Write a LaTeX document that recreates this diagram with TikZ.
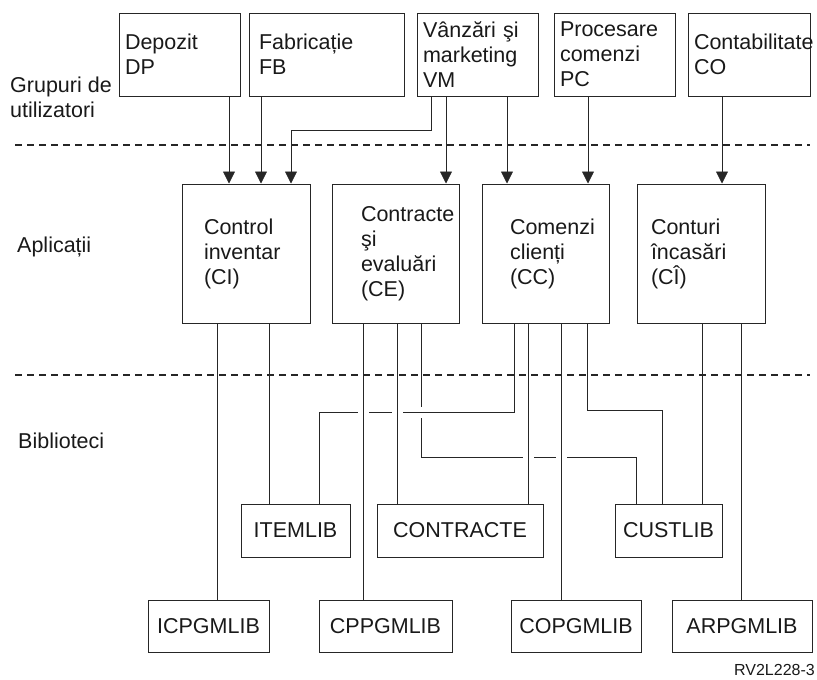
\documentclass[tikz,border=0pt]{standalone}
\usepackage{fontspec}
\setmainfont{Liberation Sans}
\usetikzlibrary{arrows.meta,backgrounds}

\begin{document}
\begin{tikzpicture}[x=1pt, y=-1pt,
      every node/.style={font=\fontsize{21.5}{25}\selectfont, text=black!90},
      box/.style={draw=black!85, line width=1pt},
      grpbox/.style={box, minimum height=83pt, align=left, inner xsep=6pt},
      appbox/.style={box, minimum height=139pt, align=left},
      libbox/.style={box, minimum height=53pt},
      pgmbox/.style={box, minimum height=52pt},
      lbl/.style={inner sep=0pt, align=left},
      conn/.style={draw=black!85, line width=0.8pt},
      arr/.style={conn, -{Triangle[width=12pt,length=12pt]}},
      bridge/.style={conn, preaction={draw, white, line width=11pt}},
      sepline/.style={draw=black!85, line width=1.2pt, dash pattern=on 7pt off 5pt}
    ]
    \useasboundingbox (0,0) rectangle (817,680);

    % grupuri de utilizatori
    \node[grpbox, text width=109pt] (DP) at (179.5,54.5) {Depozit\\DP};
    \node[grpbox, text width=135pt, inner xsep=10pt] (FB) at (326.5,54.5) {Fabricație\\FB};
    \node[grpbox, text width=109pt] (VM) at (477.5,54.5) {Vânzări şi\\marketing\\VM};
    \node[grpbox, text width=109pt] (PC) at (614.5,54.5) {Procesare\\comenzi\\PC};
    \node[grpbox, text width=110pt] (CO) at (749,54.5) {Contabilitate\\CO};

    % aplicatii
    \node[appbox, text width=84pt, inner xsep=22pt] (CI) at (246,253.5) {Control\\inventar\\(CI)};
    \node[appbox, text width=69pt, inner xsep=29pt] (CE) at (395.5,253.5) {Contracte\\şi\\evaluări\\(CE)};
    \node[appbox, text width=71pt, inner xsep=28pt] (CC) at (545.5,253.5) {Comenzi\\clienți\\(CC)};
    \node[appbox, text width=100pt, inner xsep=14pt] (CIN) at (701,253.5) {Conturi\\încasări\\(CÎ)};

    % biblioteci
    \node[libbox, minimum width=109pt] (ITEM) at (295.5,530.5) {ITEMLIB};
    \node[libbox, minimum width=166pt] (CONTR) at (460,530.5) {CONTRACTE};
    \node[libbox, minimum width=107pt] (CUST) at (668.5,530.5) {CUSTLIB};
    \node[pgmbox, minimum width=121pt] (ICP) at (208.5,626) {ICPGMLIB};
    \node[pgmbox, minimum width=133pt] (CPP) at (385.5,626) {CPPGMLIB};
    \node[pgmbox, minimum width=130pt] (COP) at (576,626) {COPGMLIB};
    \node[pgmbox, minimum width=140pt] (ARP) at (742,626) {ARPGMLIB};

    % etichete
    \node[lbl, anchor=west] (grup) at (10,97) {Grupuri de\\utilizatori};
    \node[lbl, anchor=base west] (apl) at (17,252) {Aplicații};
    \node[lbl, anchor=base west] (bib) at (18,448) {Biblioteci};
    \node[lbl, anchor=base east, font=\fontsize{16}{19}\selectfont] (fig) at (815,675) {RV2L228-3};

    \begin{pgfonlayer}{background}
    % grupuri -> aplicatii
    \draw[arr] (DP.south -| 229,0) -- (CI.north -| 229,0);
    \draw[arr] (FB.south -| 261,0) -- (CI.north -| 261,0);
    \draw[arr] (VM.south -| 431,0) |- (291,130) -- (CI.north -| 291,0);
    \draw[arr] (VM.south -| 446,0) -- (CE.north -| 446,0);
    \draw[arr] (VM.south -| 507,0) -- (CC.north -| 507,0);
    \draw[arr] (PC.south -| 588,0) -- (CC.north -| 588,0);
    \draw[arr] (CO.south -| 722,0) -- (CIN.north -| 722,0);

    % aplicatii -> biblioteci
    \draw[conn] (CE.south -| 421,0) |- (636,457) -- (CUST.north -| 636,0);
    \draw[bridge] (CC.south -| 514,0) |- (319,412) -- (ITEM.north -| 319,0);
    \draw[conn] (CI.south -| 217,0) -- (ICP.north -| 217,0);
    \draw[conn] (CI.south -| 269,0) -- (ITEM.north -| 269,0);
    \draw[bridge] (CE.south -| 363,0) -- (CPP.north -| 363,0);
    \draw[bridge] (CE.south -| 397,0) -- (CONTR.north -| 397,0);
    \draw[bridge] (CC.south -| 528,0) -- (CONTR.north -| 528,0);
    \draw[bridge] (CC.south -| 561,0) -- (COP.north -| 561,0);
    \draw[conn] (CC.south -| 587,0) |- (662,410) -- (CUST.north -| 662,0);
    \draw[conn] (CIN.south -| 702,0) -- (CUST.north -| 702,0);
    \draw[conn] (CIN.south -| 741,0) -- (ARP.north -| 741,0);
    \end{pgfonlayer}

    % separatoare
    \draw[sepline] (15,145) -- (810,145);
    \draw[sepline] (15,375) -- (810,375);
\end{tikzpicture}
\end{document}
